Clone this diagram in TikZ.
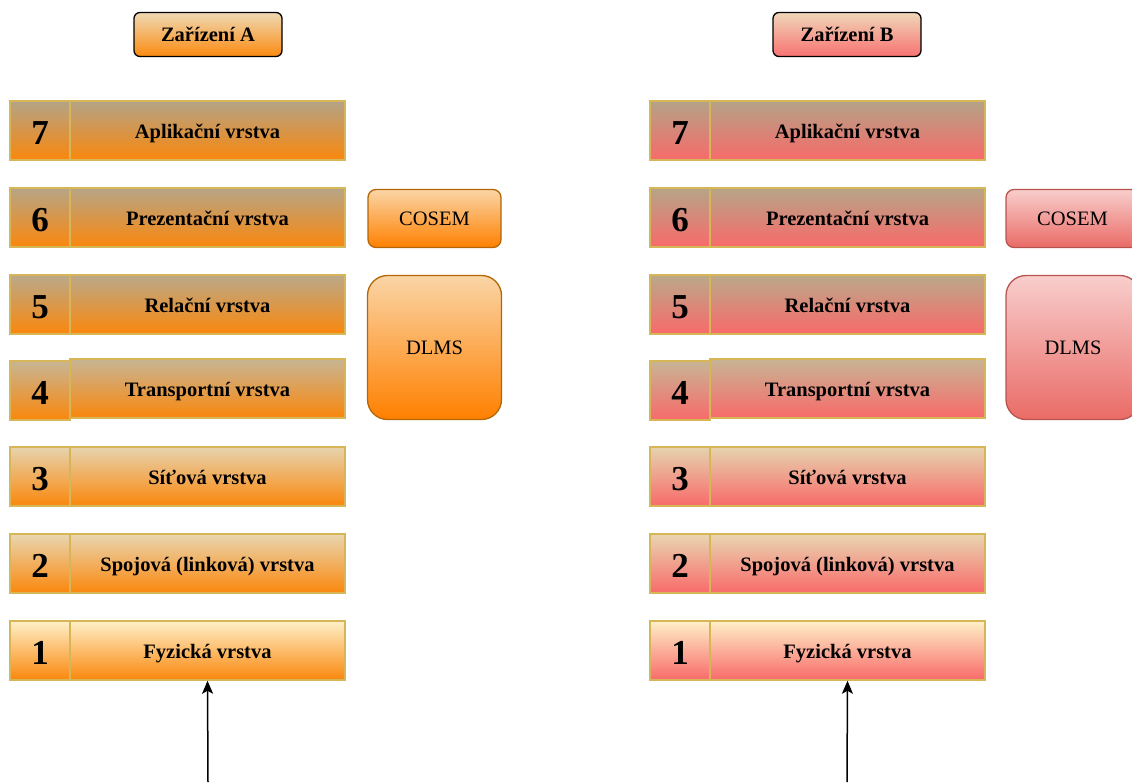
\documentclass[tikz,border=0pt]{standalone}
\usepackage{fontspec}
\setmainfont{Liberation Serif}
\usetikzlibrary{arrows.meta}
\definecolor{strokeY}{HTML}{D6B656}
\definecolor{orangeBot}{HTML}{FA870C}
\definecolor{redBot}{HTML}{F86A6A}
\definecolor{t7}{HTML}{B3A386}
\definecolor{t6}{HTML}{B6A587}
\definecolor{t5}{HTML}{BAA98A}
\definecolor{t4}{HTML}{C7B594}
\definecolor{t3}{HTML}{E6D3AE}
\definecolor{t2}{HTML}{E9D6B1}
\definecolor{t1}{HTML}{FFF0C8}
\definecolor{orFillTop}{HTML}{FAD5A6}
\definecolor{orFillBot}{HTML}{FF8000}
\definecolor{orStroke}{HTML}{B46504}
\definecolor{rdFillTop}{HTML}{F8CECC}
\definecolor{rdFillBot}{HTML}{EA6B66}
\definecolor{rdStroke}{HTML}{B85450}
\definecolor{titleTopA}{HTML}{EFD9B4}
\definecolor{titleTopB}{HTML}{EFD7B8}
\definecolor{titleBotA}{HTML}{FB8A10}
\definecolor{titleBotB}{HTML}{F87272}
\begin{document}
\begin{tikzpicture}[x=1pt,y=-1pt,
  layerbox/.style={draw=strokeY, line width=1.5pt, rectangle, inner sep=0pt, minimum height=59pt},
  numbox/.style={layerbox, minimum width=60pt, font=\fontsize{35}{40}\selectfont\bfseries, text height=32pt, text depth=5pt},
  namebox/.style={layerbox, minimum width=275pt, font=\fontsize{20.5}{24}\selectfont\bfseries, text height=20pt, text depth=4.4pt},
  titlebox/.style={draw=black, line width=1.3pt, rounded corners=6pt, inner sep=0pt, minimum width=148pt, minimum height=44pt, font=\fontsize{20.5}{24}\selectfont\bfseries, text height=19pt, text depth=4.6pt},
  protobox/.style={line width=1.3pt, inner sep=0pt, minimum width=133pt, font=\fontsize{20.5}{24}\selectfont, text height=19pt, text depth=4.6pt},
  orproto/.style={protobox, draw=orStroke, top color=orFillTop, bottom color=orFillBot},
  rdproto/.style={protobox, draw=rdStroke, top color=rdFillTop, bottom color=rdFillBot},
  link/.style={draw=black, line width=1.5pt, -{Stealth[length=13pt,width=11pt,inset=3pt]}}
]
\useasboundingbox (0,0) rectangle (1132,782);

% titles
\node[titlebox, top color=titleTopA, bottom color=titleBotA] (tA) at (208,34.5) {Zařízení A};
\node[titlebox, top color=titleTopB, bottom color=titleBotB] (tB) at (847,34.5) {Zařízení B};

% layers
\foreach \n/\yt/\dy/\lab/\tc in {
  7/101/0/{Aplikační vrstva}/t7,
  6/188/0/{Prezentační vrstva}/t6,
  5/275/0/{Relační vrstva}/t5,
  4/361/-2/{Transportní vrstva}/t4,
  3/447/0/{Síťová vrstva}/t3,
  2/534/0/{Spojová (linková) vrstva}/t2,
  1/621/0/{Fyzická vrstva}/t1}{
  \node[numbox, top color=\tc, bottom color=orangeBot] (nA\n) at (40,\yt+29.5) {\n};
  \node[namebox, top color=\tc, bottom color=orangeBot] (lA\n) at (207.5,\yt+29.5+\dy) {\lab};
  \node[numbox, top color=\tc, bottom color=redBot] (nB\n) at (680,\yt+29.5) {\n};
  \node[namebox, top color=\tc, bottom color=redBot] (lB\n) at (847.5,\yt+29.5+\dy) {\lab};
}

% protocol boxes
\node[orproto, rounded corners=8pt, minimum height=58pt] (cosA) at (434.5,218.5) {COSEM};
\node[orproto, rounded corners=20pt, minimum height=144pt, minimum width=134pt] (dlA) at (434.5,347.5) {DLMS};
\node[rdproto, rounded corners=8pt, minimum height=58pt] (cosB) at (1072.5,218.5) {COSEM};
\node[rdproto, rounded corners=20pt, minimum height=144pt, minimum width=134pt] (dlB) at (1073,347.5) {DLMS};

% arrows
\coordinate (sA) at (208,782);
\coordinate (sB) at (847,782);
\draw[link] (sA) -- (lA1.south);
\draw[link] (sB) -- (lB1.south);
\end{tikzpicture}
\end{document}
